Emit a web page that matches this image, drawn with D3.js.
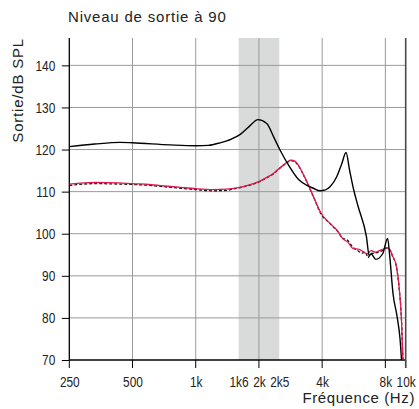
<!DOCTYPE html>
<html>
<head>
<meta charset="utf-8">
<script src="https://cdn.jsdelivr.net/npm/d3@7"></script>
<style>
  body { margin: 0; background: #fff; }
  svg { display: block; }
</style>
</head>
<body>
<svg id="chart"></svg>
<script>
// --- data ---
const title = "Niveau de sortie à 90";
const yLabel = "Sortie/dB SPL";
const xLabel = "Fréquence (Hz)";

const yTicks = [70, 80, 90, 100, 110, 120, 130, 140];
const xGrid = [500, 1000, 2000, 4000, 8000];
const xTickMarks = [250, 500, 1000, 2000, 4000, 8000, 10000];
const xTickValues = [250, 500, 1000, 1600, 2000, 2500, 4000, 8000, 10000];
const xTickLabels = ["250", "500", "1k", "1k6", "2k", "2k5", "4k", "8k", "10k"];
const band = [1600, 2500];

// black solid curve
const solidFreq = [250, 330, 436, 500, 754, 1000, 1150, 1305, 1480, 1630, 1800, 1980, 2180, 2350, 2520, 2800, 3100, 3400, 3640, 3900, 4150, 4370, 4700, 4950, 5200, 5400, 5650, 5940, 6500, 6700, 6850, 7200, 7780, 8200, 8400, 8700, 9100, 9400, 9550];
const solidDb   = [120.7, 121.3, 121.7, 121.6, 121.1, 120.9, 121.0, 121.6, 122.5, 123.6, 125.5, 127.1, 126.2, 123.0, 119.9, 115.9, 112.8, 111.4, 110.8, 110.2, 110.4, 111.2, 113.6, 116.5, 119.3, 115.2, 110.5, 106.4, 99.3, 94.8, 95.2, 93.9, 95.3, 98.9, 94.5, 85.8, 80.3, 75.0, 70.0];

// red curve
const redFreq = [250, 330, 430, 500, 600, 730, 850, 1000, 1210, 1400, 1570, 1800, 2000, 2200, 2340, 2480, 2610, 2740, 2840, 2950, 3050, 3300, 3640, 3960, 4250, 4500, 4750, 5000, 5300, 5600, 6000, 6300, 6550, 6850, 7150, 7500, 7800, 8100, 8400, 8700, 9000, 9300, 9550, 9700];
const redDb   = [111.8, 112.2, 112.1, 111.9, 111.7, 111.3, 111.0, 110.7, 110.5, 110.6, 110.9, 111.6, 112.4, 113.5, 114.3, 115.4, 116.3, 117.1, 117.5, 117.3, 116.6, 113.5, 108.8, 104.8, 103.0, 101.8, 100.6, 98.9, 98.0, 96.5, 96.3, 95.7, 95.2, 96.0, 95.6, 96.0, 96.3, 96.7, 96.2, 94.5, 92.6, 87.4, 79.5, 70.0];

// black dashed curve
const dashFreq = [250, 330, 430, 500, 600, 730, 850, 1000, 1210, 1400, 1570, 1800, 2000, 2200, 2340, 2480, 2610, 2740, 2840, 2950, 3050, 3300, 3640, 3960, 4250, 4450, 4600, 4750, 5000, 5300, 5600, 5900, 6200, 6450, 6600, 6850, 7150, 7500, 7800, 8100, 8400, 8700, 9000, 9300, 9550, 9700];
const dashDb   = [111.5, 111.9, 111.8, 111.7, 111.5, 111.1, 110.8, 110.5, 110.2, 110.3, 110.8, 111.5, 112.3, 113.4, 114.2, 115.3, 116.2, 117.0, 117.4, 117.2, 116.5, 113.4, 108.7, 104.6, 102.9, 102.0, 101.2, 100.5, 99.0, 98.4, 96.8, 96.0, 95.4, 95.6, 94.3, 95.3, 95.4, 95.7, 96.1, 96.6, 96.2, 94.4, 92.5, 87.2, 79.3, 70.0];

// --- layout ---
const W = 419, H = 409;
const margin = { left: 69.3, right: 13.3, top: 38, bottom: 49 };
const textFont = "'Liberation Sans', Arial, sans-serif";
const narrow = 0.82; // tick labels are set in a condensed face

const svg = d3.select("#chart").attr("width", W).attr("height", H);

const x = d3.scaleLog().domain([250, 10000]).range([margin.left, W - margin.right]);
const y = d3.scaleLinear().domain([70, 146.5]).range([H - margin.bottom, margin.top]);

const x0 = x.range()[0], x1 = x.range()[1];
const yBottom = y.range()[0], yTop = y.range()[1];

// shaded band
svg.append("rect")
  .attr("x", x(band[0]))
  .attr("y", yTop)
  .attr("width", x(band[1]) - x(band[0]))
  .attr("height", yBottom - yTop)
  .attr("fill", "#d9dada");

// grid
svg.append("g").selectAll("line")
  .data(yTicks.slice(1))
  .join("line")
  .attr("x1", x0).attr("x2", x1)
  .attr("y1", d => y(d)).attr("y2", d => y(d))
  .attr("stroke", "#9a9a9a").attr("stroke-width", 1);

svg.append("g").selectAll("line")
  .data(xGrid)
  .join("line")
  .attr("x1", d => x(d)).attr("x2", d => x(d))
  .attr("y1", yTop).attr("y2", yBottom)
  .attr("stroke", "#9a9a9a").attr("stroke-width", 1);

// y axis
const yAxisG = svg.append("g")
  .attr("transform", `translate(${x0},0)`)
  .call(d3.axisLeft(y).tickValues(yTicks).tickSizeInner(7.5).tickSizeOuter(0).tickPadding(6));
yAxisG.select(".domain").remove();
yAxisG.selectAll(".tick line").attr("stroke", "#000");
yAxisG.selectAll(".tick text")
  .attr("x", -14 / narrow)
  .attr("transform", `scale(${narrow},1)`)
  .style("font-family", textFont).style("font-size", "14.5px").attr("fill", "#222");

// x axis labels (tick marks drawn separately)
const xAxisG = svg.append("g")
  .attr("transform", `translate(0,${yBottom})`)
  .call(d3.axisBottom(x).tickValues(xTickValues).tickFormat((d, i) => xTickLabels[i]).tickSize(0).tickPadding(17));
xAxisG.select(".domain").remove();
xAxisG.selectAll(".tick text")
  .attr("transform", `scale(${narrow},1)`)
  .style("font-family", textFont).style("font-size", "14.5px").attr("fill", "#222");

svg.append("g").selectAll("line")
  .data(xTickMarks)
  .join("line")
  .attr("x1", d => x(d)).attr("x2", d => x(d))
  .attr("y1", yBottom).attr("y2", yBottom + 8)
  .attr("stroke", "#000").attr("stroke-width", 1);

// axis frame
svg.append("line").attr("x1", x0).attr("x2", x0).attr("y1", yTop).attr("y2", yBottom)
  .attr("stroke", "#000").attr("stroke-width", 1.3);
svg.append("line").attr("x1", x0).attr("x2", x1).attr("y1", yBottom).attr("y2", yBottom)
  .attr("stroke", "#000").attr("stroke-width", 1.3);
svg.append("line").attr("x1", x1).attr("x2", x1).attr("y1", yTop).attr("y2", yBottom + 8)
  .attr("stroke", "#4a4a4a").attr("stroke-width", 1.6);

// curves
const line = d3.line()
  .x(d => x(d[0]))
  .y(d => y(d[1]))
  .curve(d3.curveMonotoneX);

svg.append("defs").append("clipPath").attr("id", "plotClip")
  .append("rect").attr("x", x0).attr("y", yTop).attr("width", x1 - x0).attr("height", yBottom - yTop + 1);

const curves = svg.append("g").attr("clip-path", "url(#plotClip)");

curves.append("path")
  .datum(d3.zip(dashFreq, dashDb))
  .attr("d", line)
  .attr("fill", "none")
  .attr("stroke", "#111")
  .attr("stroke-width", 1.3)
  .attr("stroke-dasharray", "3,2");

curves.append("path")
  .datum(d3.zip(redFreq, redDb))
  .attr("d", line)
  .attr("fill", "none")
  .attr("stroke", "#e0174e")
  .attr("stroke-width", 1.3);

curves.append("path")
  .datum(d3.zip(solidFreq, solidDb))
  .attr("d", line)
  .attr("fill", "none")
  .attr("stroke", "#000")
  .attr("stroke-width", 1.4);

// texts
svg.append("text")
  .attr("x", 68).attr("y", 22)
  .text(title)
  .style("font-family", textFont).style("font-size", "15px").style("letter-spacing", "0.8px").attr("fill", "#222");

svg.append("text")
  .attr("transform", "rotate(-90)")
  .attr("x", -38).attr("y", 23)
  .style("text-anchor", "end")
  .text(yLabel)
  .style("font-family", textFont).style("font-size", "15px").style("letter-spacing", "0.8px").attr("fill", "#222");

svg.append("text")
  .attr("x", 415).attr("y", 403)
  .style("text-anchor", "end")
  .text(xLabel)
  .style("font-family", textFont).style("font-size", "15px").style("letter-spacing", "0.6px").attr("fill", "#222");
</script>
</body>
</html>
